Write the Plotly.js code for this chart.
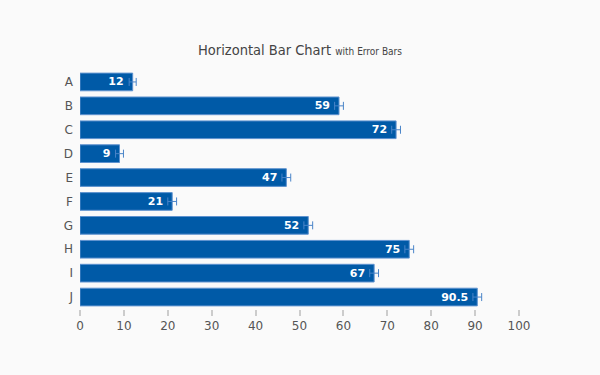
<!DOCTYPE html>
<html>
<head>
<meta charset="utf-8">
<script src="https://cdn.plot.ly/plotly-3.0.1.min.js"></script>
<style>html,body{margin:0;padding:0;background:#fafafa;}#chart{width:600px;height:375px;}</style>
</head>
<body>
<div id="chart"></div>
<script>
const categories = ["A","B","C","D","E","F","G","H","I","J"];
const values = [12, 59, 72, 9, 47, 21, 52, 75, 67, 90.5];
const errors = [0.8, 1, 1, 0.9, 1, 1, 1, 1, 1, 1];
const labels = ["12","59","72","9","47","21","52","75","67","90.5"];
const xTicks = [0,10,20,30,40,50,60,70,80,90,100];

const pad = '\u00a0\u2009';
const trace = {
  type: 'bar',
  orientation: 'h',
  y: categories,
  x: values,
  text: labels.map(s => s + pad),
  textposition: 'inside',
  insidetextanchor: 'end',
  textangle: 0,
  constraintext: 'none',
  textfont: {family: 'DejaVu Sans, Verdana, sans-serif', size: 11, color: '#ffffff', weight: 'bold'},
  marker: {color: '#005aa7', line: {color: '#5e92cf', width: 1}},
  error_x: {type: 'data', array: errors, visible: true, color: '#4a84c8', thickness: 1, width: 4},
  hoverinfo: 'none',
  cliponaxis: false
};

const layout = {
  width: 600, height: 375,
  paper_bgcolor: '#fafafa', plot_bgcolor: '#fafafa',
  margin: {l: 80, r: 81, t: 70, b: 66},
  font: {family: 'DejaVu Sans, Verdana, sans-serif', size: 12, color: '#555'},
  title: {
    text: "Horizontal Bar Chart <span style='font-size:10px'>with Error Bars</span>",
    font: {family: 'DejaVu Sans Condensed, DejaVu Sans, sans-serif', size: 14.5, color: '#444'},
    x: 0.5, xanchor: 'center', y: 1 - 50/375, yanchor: 'middle', yref: 'container'
  },
  bargap: 0.26,
  showlegend: false,
  xaxis: {
    range: [0, 100], tickvals: xTicks, ticktext: xTicks.map(String),
    showgrid: false, zeroline: false, showline: false,
    ticks: 'outside', ticklen: 6, tickcolor: '#cccccc', tickwidth: 2,
    tickfont: {size: 12, color: '#555'}
  },
  yaxis: {
    autorange: 'reversed', showgrid: false, zeroline: false, showline: false,
    ticks: '', ticklabelstandoff: 6,
    tickfont: {size: 12, color: '#555'}
  }
};

Plotly.newPlot('chart', [trace], layout, {displayModeBar: false, staticPlot: true});
</script>
</body>
</html>
